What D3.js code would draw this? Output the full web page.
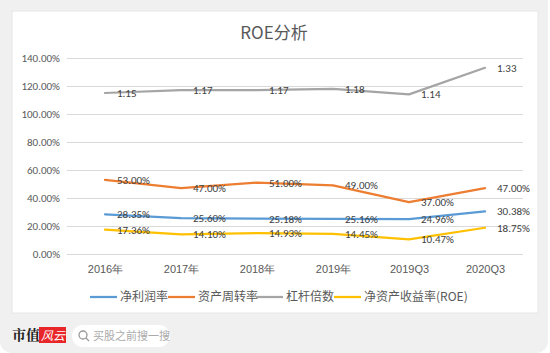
<!DOCTYPE html>
<html><head><meta charset="utf-8">
<script src="https://cdn.jsdelivr.net/npm/d3@7"></script>
<style>
html,body{margin:0;padding:0;background:#fff;}
svg{display:block;font-family:"Microsoft YaHei","Noto Sans CJK SC","Noto Sans",sans-serif;}
</style></head>
<body>
<script>
const categories = ["2016年","2017年","2018年","2019年","2019Q3","2020Q3"];
const netMargin = [28.35,25.60,25.18,25.16,24.96,30.38];
const assetTurnover = [53.00,47.00,51.00,49.00,37.00,47.00];
const leverage = [1.15,1.17,1.17,1.18,1.14,1.33];
const roe = [17.36,14.10,14.93,14.45,10.47,18.75];
const yTicks = [0,20,40,60,80,100,120,140];
const seriesNames = ["净利润率","资产周转率","杠杆倍数","净资产收益率(ROE)"];
const colors = ["#5B9BD5","#ED7D31","#A5A5A5","#FFC000"];

const series = [
  {name:seriesNames[0], vals:netMargin, plot:netMargin, label:d=>d.toFixed(2)+"%"},
  {name:seriesNames[1], vals:assetTurnover, plot:assetTurnover, label:d=>d.toFixed(2)+"%"},
  {name:seriesNames[2], vals:leverage, plot:leverage.map(v=>v*100), label:d=>d.toFixed(2)},
  {name:seriesNames[3], vals:roe, plot:roe, label:d=>d.toFixed(2)+"%"}
];

const W=550,H=353;
const svg=d3.select("body").append("svg").attr("width",W).attr("height",H);
// outer gray panel
svg.append("rect").attr("x",0).attr("y",-12).attr("width",548).attr("height",365).attr("rx",12).attr("fill","#f0f0f0");
// white card
svg.append("rect").attr("x",12).attr("y",11).attr("width",526).attr("height",302).attr("fill","#fff").attr("stroke","#e6e6e6").attr("stroke-width",1);

svg.append("text").attr("x",274).attr("y",39).attr("text-anchor","middle").attr("font-size",17).attr("fill","#595959").text("ROE分析");

const x=d3.scalePoint().domain(categories).range([67,523]).padding(0.5);
const y=d3.scaleLinear().domain([0,140]).range([254,58]);

const gy=svg.append("g").attr("transform","translate(67,0)")
  .call(d3.axisLeft(y).tickValues(yTicks).tickSize(-456).tickFormat(d=>d.toFixed(2)+"%"));
gy.select(".domain").remove();
gy.selectAll(".tick line").attr("stroke","#d9d9d9");
gy.selectAll(".tick text").attr("x",-7).attr("font-size",11).attr("fill","#595959").attr("font-family","Calibri,Carlito,'Liberation Sans',sans-serif");

const gx=svg.append("g").attr("transform","translate(0,254)")
  .call(d3.axisBottom(x).tickSize(0));
gx.select(".domain").remove();
gx.selectAll(".tick text").attr("dy",0).attr("y",19).attr("font-size",11).attr("fill","#595959");

const line=d3.line().x((d,i)=>x(categories[i])).y(d=>y(d));
series.forEach((s,k)=>{
  svg.append("path").datum(s.plot).attr("d",line).attr("fill","none")
    .attr("stroke",colors[k]).attr("stroke-width",2.25).attr("stroke-linejoin","round").attr("stroke-linecap","round");
});
series.forEach((s,k)=>{
  svg.append("g").selectAll("text").data(s.vals).join("text")
    .attr("x",(d,i)=>x(categories[i])+12)
    .attr("y",(d,i)=>y(s.plot[i])+4)
    .attr("font-size",11).attr("fill","#404040")
    .attr("font-family","Calibri,Carlito,'Liberation Sans',sans-serif")
    .text(d=>s.label(d));
});

// legend
const legX=[90,168,256,334];
const lg=svg.append("g");
series.forEach((s,k)=>{
  lg.append("line").attr("x1",legX[k]).attr("x2",legX[k]+27).attr("y1",297).attr("y2",297)
    .attr("stroke",colors[k]).attr("stroke-width",2.25);
  lg.append("text").attr("x",legX[k]+30).attr("y",301).attr("font-size",12).attr("fill","#595959").text(s.name);
});

// footer logo
svg.append("text").attr("x",12).attr("y",340).attr("font-size",14).attr("font-weight","bold").attr("fill","#222")
  .attr("font-family","'Noto Serif CJK SC','Noto Sans CJK SC',serif").text("市值");
svg.append("rect").attr("x",39).attr("y",327).attr("width",27).attr("height",16).attr("fill","#e8262a");
svg.append("text").attr("x",41).attr("y",340).attr("font-size",12).attr("font-style","italic").attr("fill","#fff").text("风云");
svg.append("rect").attr("x",72).attr("y",325).attr("width",98).attr("height",22).attr("rx",11).attr("fill","#fff");
svg.append("circle").attr("cx",83).attr("cy",335).attr("r",4).attr("fill","none").attr("stroke","#999").attr("stroke-width",1.3);
svg.append("line").attr("x1",86).attr("y1",338).attr("x2",89).attr("y2",341).attr("stroke","#999").attr("stroke-width",1.3);
svg.append("text").attr("x",93).attr("y",340).attr("font-size",11).attr("fill","#aaa").text("买股之前搜一搜");
</script>
</body></html>
